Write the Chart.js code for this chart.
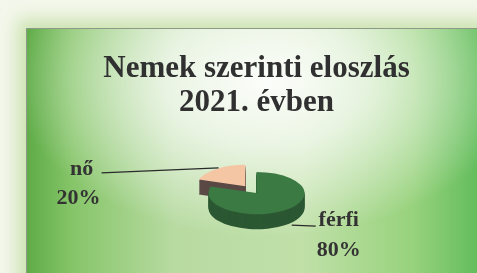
<!DOCTYPE html>
<html>
<head>
<meta charset="utf-8">
<script src="https://cdn.jsdelivr.net/npm/chart.js@4"></script>
<style>
  html, body { margin: 0; padding: 0; }
  body { width: 477px; height: 273px; overflow: hidden; position: relative; background: #f4f7ec; }
  #panel {
    position: absolute; left: 26px; top: 28px; width: 460px; height: 260px;
    border-left: 1px solid #8d9a88; border-top: 1px solid #8d9a88;
    box-shadow: 0 0 16px 9px rgba(178, 214, 138, 0.6);
    background:
      radial-gradient(ellipse 55% 60% at 52% 20%, rgba(255,255,255,0.95) 0%, rgba(255,255,255,0.7) 40%, rgba(255,255,255,0) 100%),
      linear-gradient(90deg, #5fac48 0%, #86c569 10%, #b8dba2 32%, #c0e0a8 60%, #97d27c 84%, #5cba58 100%);
  }
  #wrap { position: absolute; left: 0; top: 0; width: 477px; height: 273px; }
</style>
</head>
<body>
<div id="panel"></div>
<div id="wrap"><canvas id="genderChart" width="477" height="273"></canvas></div>
<script>
const categories = ['férfi', 'nő'];
const shares = [80, 20];
const titleLines = ['Nemek szerinti eloszlás', '2021. évben'];

const topColors = ['#3c7a44', '#f4c6a4'];
const sideColors = ['#2b5832', '#5a4945'];

const tilt = 0.44;   // vertical squash of the pie
const depth = 15;    // thickness in px

// fake 3D: squash the pie and paint darker copies underneath
const pie3d = {
    id: 'pie3d',
    beforeDatasetsDraw(chart) {
        const ctx = chart.ctx;
        const arcs = chart.getDatasetMeta(0).data;
        const cx = arcs[0].x, cy = arcs[0].y;
        ctx.save();
        ctx.translate(cx, cy);
        ctx.scale(1, tilt);
        ctx.translate(-cx, -cy);
        for (let d = depth; d >= 1; d--) {
            ctx.save();
            ctx.translate(0, d / tilt);
            arcs.forEach((arc, i) => {
                const saved = arc.options;
                arc.options = { ...saved, backgroundColor: sideColors[i], borderWidth: 0 };
                arc.draw(ctx);
                arc.options = saved;
            });
            ctx.restore();
        }
    },
    afterDatasetsDraw(chart) {
        const ctx = chart.ctx;
        ctx.restore();

        const arcs = chart.getDatasetMeta(0).data;
        const cx = arcs[0].x, cy = arcs[0].y;
        const edgePoint = (arc) => {
            const mid = (arc.startAngle + arc.endAngle) / 2;
            const off = (arc.options.offset || 0) / 4 * (2 - Math.sin(Math.min(Math.PI, arc.circumference)));
            const r = arc.outerRadius + off;
            return { x: cx + Math.cos(mid) * r, y: cy + Math.sin(mid) * r * tilt };
        };

        ctx.save();
        ctx.strokeStyle = '#2a2a2a';
        ctx.lineWidth = 1.3;
        ctx.fillStyle = '#333333';
        ctx.font = 'bold 22px "Liberation Serif", "Times New Roman", serif';
        ctx.textAlign = 'center';
        ctx.textBaseline = 'alphabetic';

        // nő (left)
        let p = edgePoint(arcs[1]);
        let end = { x: p.x - 115, y: p.y + 4 };
        ctx.beginPath(); ctx.moveTo(p.x + 2, p.y - 1); ctx.lineTo(end.x, end.y); ctx.stroke();
        ctx.fillText(categories[1], end.x - 20, end.y + 2);
        ctx.fillText(shares[1] + '%', end.x - 23, end.y + 31);

        // férfi (right)
        p = edgePoint(arcs[0]);
        let start = { x: p.x + 7, y: p.y + depth };
        end = { x: start.x + 24, y: start.y + 1 };
        ctx.beginPath(); ctx.moveTo(start.x, start.y); ctx.lineTo(end.x, end.y); ctx.stroke();
        ctx.fillText(categories[0], end.x + 23, end.y);
        ctx.fillText(shares[0] + '%', end.x + 23, end.y + 30);
        ctx.restore();
    }
};

new Chart(document.getElementById('genderChart'), {
    type: 'pie',
    data: {
        labels: categories,
        datasets: [{
            data: shares,
            backgroundColor: topColors,
            borderWidth: 0,
            offset: [0, 76]
        }]
    },
    options: {
        responsive: false,
        animation: false,
        radius: 48,
        layout: { padding: { left: 36, right: 0, top: 0, bottom: 7 } },
        plugins: {
            legend: { display: false },
            tooltip: { enabled: false },
            title: {
                display: true,
                text: titleLines,
                color: '#303030',
                font: { family: '"Liberation Serif", "Times New Roman", serif', size: 31, weight: 'bold', lineHeight: 1.1 },
                padding: { top: 52, bottom: 0 }
            }
        }
    },
    plugins: [pie3d]
});
</script>
</body>
</html>
